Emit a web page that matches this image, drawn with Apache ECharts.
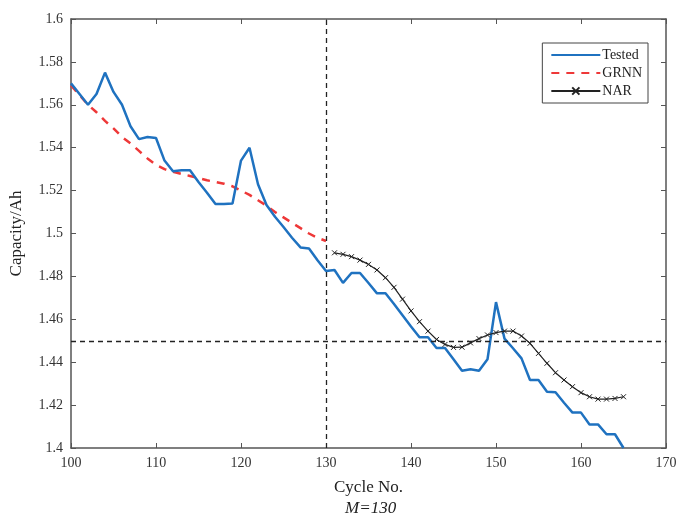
<!DOCTYPE html>
<html>
<head>
<meta charset="utf-8">
<script src="https://cdn.jsdelivr.net/npm/echarts@6/dist/echarts.min.js"></script>
<style>html,body{margin:0;padding:0;background:#fff}#c{width:692px;height:523px}</style>
</head>
<body>
<div id="c"></div>
<script>
const testedCycles = [100,101,102,103,104,105,106,107,108,109,110,111,112,113,114,115,116,117,118,119,120,121,122,123,124,125,126,127,128,129,130,131,132,133,134,135,136,137,138,139,140,141,142,143,144,145,146,147,148,149,150,151,152,153,154,155,156,157,158,159,160,161,162,163,164,165];
const testedValues = [1.570,1.565,1.560,1.565,1.575,1.566,1.560,1.550,1.544,1.545,1.5445,1.534,1.529,1.5295,1.5295,1.524,1.519,1.5137,1.5137,1.514,1.534,1.540,1.523,1.5133,1.5078,1.503,1.498,1.4935,1.493,1.4875,1.4825,1.483,1.477,1.4816,1.4816,1.4769,1.4721,1.4721,1.4671,1.4619,1.4566,1.4516,1.4516,1.4466,1.4466,1.4414,1.436,1.4367,1.436,1.4414,1.468,1.451,1.4465,1.4418,1.4317,1.4317,1.4262,1.426,1.4211,1.4165,1.4165,1.411,1.411,1.4064,1.4064,1.400];
const grnnCycles = [100,101,102,103,104,105,106,107,108,109,110,111,112,113,114,115,116,117,118,119,120,121,122,123,124,125,126,127,128,129,130];
const grnnValues = [1.569,1.5645,1.560,1.5565,1.5525,1.549,1.545,1.542,1.5385,1.535,1.532,1.530,1.5288,1.5278,1.5268,1.5258,1.5248,1.524,1.5232,1.522,1.520,1.518,1.5155,1.513,1.510,1.5075,1.505,1.5025,1.500,1.498,1.4965];
const narCycles = [131,132,133,134,135,136,137,138,139,140,141,142,143,144,145,146,147,148,149,150,151,152,153,154,155,156,157,158,159,160,161,162,163,164,165];
const narValues = [1.491,1.4903,1.4892,1.4876,1.4856,1.483,1.4794,1.4749,1.4694,1.4639,1.4589,1.4545,1.4506,1.4483,1.4469,1.447,1.449,1.451,1.4527,1.4538,1.4545,1.4545,1.4522,1.4488,1.4441,1.4395,1.4351,1.4317,1.4286,1.4258,1.4239,1.4228,1.4228,1.4231,1.4239];
const splitCycle = 130;
const thresholdCapacity = 1.45;
const xTitle = 'Cycle No.';
const yTitle = 'Capacity/Ah';
const caption = 'M=130';

const font = '"Liberation Serif", "DejaVu Serif", serif';
const zip = (a, b) => a.map((v, i) => [v, b[i]]);
const axisCol = '#555';

const chart = echarts.init(document.getElementById('c'), null, {renderer: 'canvas'});
const baseX = {
  type: 'value', min: 100, max: 170, interval: 10,
  axisLine: {show: true, onZero: false, lineStyle: {color: axisCol, width: 1.5}},
  axisTick: {show: true, inside: true, length: 5, lineStyle: {color: axisCol, width: 1}},
  splitLine: {show: false}
};
const baseY = {
  type: 'value', min: 1.4, max: 1.6, interval: 0.02,
  axisLine: {show: true, onZero: false, lineStyle: {color: axisCol, width: 1.5}},
  axisTick: {show: true, inside: true, length: 5, lineStyle: {color: axisCol, width: 1}},
  splitLine: {show: false}
};
chart.setOption({
  animation: false,
  backgroundColor: '#fff',
  grid: {left: 71, right: 26, top: 19, bottom: 75},
  xAxis: [
    Object.assign({}, baseX, {
      position: 'bottom',
      name: xTitle, nameLocation: 'middle', nameGap: 31,
      nameTextStyle: {fontFamily: font, fontSize: 17, color: '#222'},
      axisLabel: {fontFamily: font, fontSize: 14, color: '#333', margin: 8}
    }),
    Object.assign({}, baseX, {position: 'top', axisLabel: {show: false}})
  ],
  yAxis: [
    Object.assign({}, baseY, {
      position: 'left',
      name: yTitle, nameLocation: 'middle', nameGap: 46,
      nameTextStyle: {fontFamily: font, fontSize: 17, color: '#222'},
      axisLabel: {fontFamily: font, fontSize: 14, color: '#333', margin: 8,
        formatter: v => String(+v.toFixed(2))}
    }),
    Object.assign({}, baseY, {position: 'right', axisLabel: {show: false}})
  ],
  legend: {
    right: 44, top: 43, orient: 'vertical',
    backgroundColor: '#fff',
    borderColor: '#444', borderWidth: 1,
    padding: [5, 6, 5, 8],
    itemGap: 4, itemWidth: 49, itemHeight: 9,
    textStyle: {fontFamily: font, fontSize: 14, color: '#222', padding: [0, 0, 0, -3]},
    data: [
      {name: 'Tested', itemStyle: {opacity: 0}},
      {name: 'GRNN', itemStyle: {opacity: 0}},
      {name: 'NAR'}
    ]
  },
  graphic: [{
    type: 'text', left: 345, top: 500,
    style: {text: caption, font: 'italic 17px "Liberation Serif"', fill: '#222'}
  }],
  series: [
    {
      name: 'Tested', type: 'line', data: zip(testedCycles, testedValues),
      symbol: 'none', lineStyle: {color: '#1f72c0', width: 2.5}, itemStyle: {color: '#1f72c0'},
      z: 3,
      markLine: {
        silent: true, symbol: 'none', label: {show: false},
        lineStyle: {color: '#222', type: [5, 4], width: 1.3},
        data: [{xAxis: splitCycle}, {yAxis: thresholdCapacity}]
      }
    },
    {
      name: 'GRNN', type: 'line', data: zip(grnnCycles, grnnValues),
      symbol: 'none', lineStyle: {color: '#ee3838', width: 2.5, type: [8, 7]}, itemStyle: {color: '#ee3838'},
      z: 2
    },
    {
      name: 'NAR', type: 'line', data: zip(narCycles, narValues),
      symbol: 'path://M0,0L10,10M10,0L0,10', symbolSize: 5,
      lineStyle: {color: '#222', width: 1.2},
      itemStyle: {color: '#222', borderColor: '#222', borderWidth: 1},
      z: 4
    }
  ]
});
</script>
</body>
</html>
